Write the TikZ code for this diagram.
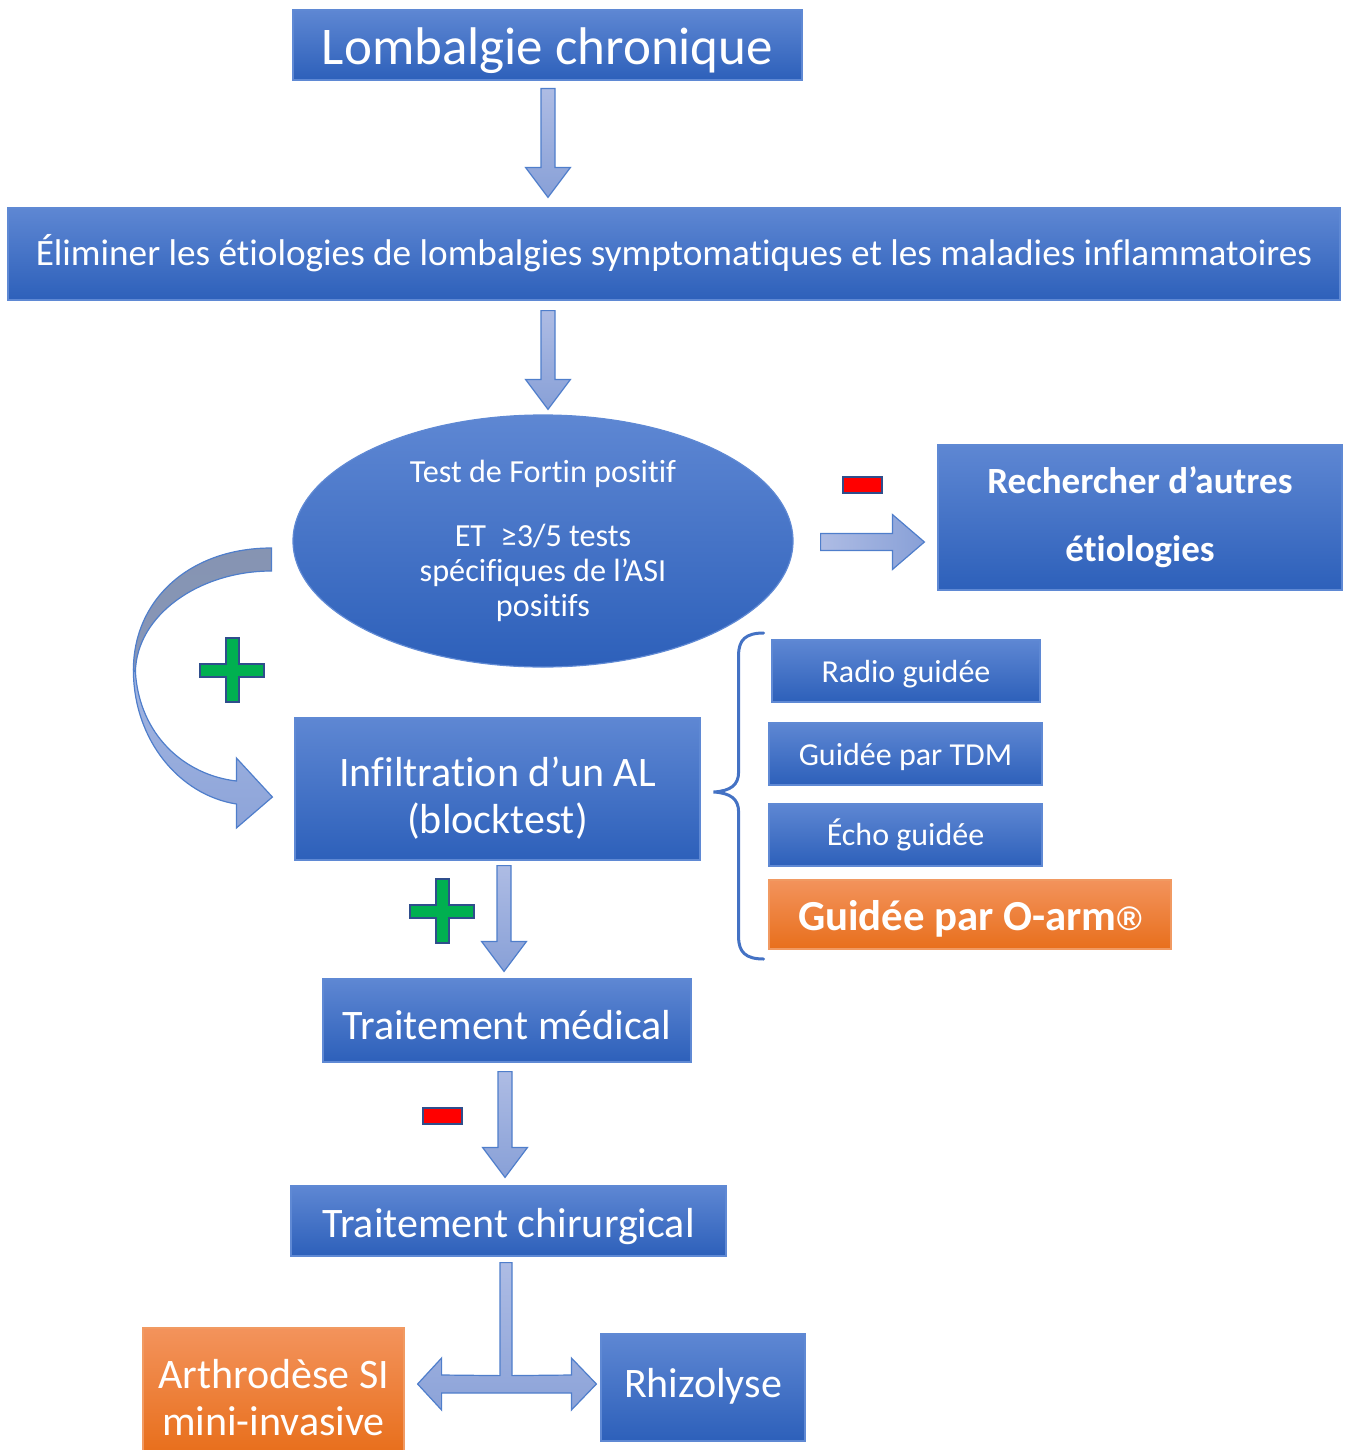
\documentclass[tikz,border=0pt]{standalone}
\usepackage{fontspec}
\setmainfont{Carlito}[Ligatures=NoCommon]
\newfontfamily\symfont{Liberation Sans}
\usetikzlibrary{calc,shapes.geometric}
\definecolor{boxtop}{HTML}{5E87D3}
\definecolor{boxbot}{HTML}{2D60BA}
\definecolor{boxline}{HTML}{5F89D4}
\definecolor{ortop}{HTML}{F3935C}
\definecolor{orbot}{HTML}{E86F1C}
\definecolor{orline}{HTML}{F19A62}
\definecolor{arrtop}{HTML}{AEBCE4}
\definecolor{arrbot}{HTML}{88A0D7}
\definecolor{arrline}{HTML}{4F7ECB}
\definecolor{curvtop}{HTML}{8694B2}
\definecolor{curvbot}{HTML}{8DA4D9}
\definecolor{plusgreen}{HTML}{00B050}
\definecolor{signline}{HTML}{2F4E8C}
\definecolor{bracecol}{HTML}{4472C4}
\tikzset{
  blbox/.style={draw=boxline,line width=0.6pt,top color=boxtop,bottom color=boxbot,text=white,align=center,inner sep=0pt},
  orbox/.style={blbox,draw=orline,top color=ortop,bottom color=orbot},
  elli/.style={ellipse,blbox},
  hugetxt/.style={font=\fontsize{26.5}{30}\selectfont},
  bigtxt/.style={font=\fontsize{21}{23.5}\selectfont},
  medtxt/.style={font=\fontsize{18.6}{21}\selectfont},
  smltxt/.style={font=\fontsize{16}{18}\selectfont},
  base/.style={text height=#1,text depth=0pt},
  blkarr/.style n args={3}{to path={let \p1=(\tikztostart),\p2=(\tikztotarget),\n1={atan2(\y2-\y1,\x2-\x1)} in
    ($(\p1)+(\n1+90:#1)$) -- ($(\p2)+(\n1+180:#3)+(\n1+90:#1)$) -- ($(\p2)+(\n1+180:#3)+(\n1+90:#2)$) -- (\p2)
    -- ($(\p2)+(\n1+180:#3)+(\n1-90:#2)$) -- ($(\p2)+(\n1+180:#3)+(\n1-90:#1)$) -- ($(\p1)+(\n1-90:#1)$) -- cycle}},
  downarr/.style={blkarr={3.5pt}{11.25pt}{15pt},draw=arrline,line width=0.6pt,top color=arrtop,bottom color=arrbot},
  rightarr/.style={blkarr={4.25pt}{13.75pt}{16pt},draw=arrline,line width=0.6pt,left color=arrtop,right color=arrbot},
  tarr/.style={draw=arrline,line width=0.6pt,top color=arrtop,bottom color=arrbot!90!arrtop},
  brace/.style={draw=bracecol,line width=1.5pt,line cap=round},
  plussign/.pic={\draw[fill=plusgreen,draw=signline,line width=1pt] (-6.5,-32) -- (6.5,-32) -- (6.5,-6.5) -- (32,-6.5) -- (32,6.5) -- (6.5,6.5) -- (6.5,32) -- (-6.5,32) -- (-6.5,6.5) -- (-32,6.5) -- (-32,-6.5) -- (-6.5,-6.5) -- cycle;},
  minussign/.pic={\draw[fill=red,draw=signline,line width=1pt] (-19.5,-8) rectangle (19.5,8);}
}

\begin{document}
\begin{tikzpicture}[x=0.5pt,y=-0.5pt]
  \useasboundingbox (0,0) rectangle (1350,1450);

  % boxes
  \node[blbox,hugetxt,base=19.2pt,minimum width=254.5pt,minimum height=35pt] (lomb) at (547.5,45) {Lombalgie chronique};
  \node[blbox,medtxt,base=11pt,minimum width=666pt,minimum height=46pt] (elim) at (674,254) {Éliminer les étiologies de lombalgies symptomatiques et les maladies inflammatoires};
  \node[elli,minimum width=250pt,minimum height=126pt,font=\fontsize{16.1}{17.5}\selectfont] (fortin) at (543,541)
    {Test de Fortin positif\\[14.5pt] ET\ \ ≥3/5 tests\\ spécifiques de l’ASI\\ positifs};
  \node[blbox,font=\bfseries\fontsize{18.5}{34}\selectfont,minimum width=202pt,minimum height=72.5pt] (rech) at (1140,517.5) {Rechercher d’autres\\ étiologies};
  \node[blbox,bigtxt,minimum width=202.5pt,minimum height=71pt] (infil) at (497.5,789) {\rule{0pt}{24pt}Infiltration d’un AL\\ (blocktest)};
  \node[blbox,smltxt,base=11.2pt,minimum width=134pt,minimum height=31pt] (radio) at (906,671) {Radio guidée};
  \node[blbox,smltxt,base=11.2pt,minimum width=136.5pt,minimum height=31pt] (tdm) at (905.5,754) {Guidée par TDM};
  \node[blbox,smltxt,base=10.2pt,minimum width=136.5pt,minimum height=31pt] (echo) at (905.5,835) {Écho guidée};
  \node[orbox,font=\bfseries\fontsize{21.4}{24}\selectfont,base=16pt,minimum width=201pt,minimum height=34.5pt] (oarm) at (970,914.5) {Guidée par O-arm{\symfont\fontsize{17}{20}\selectfont ®}};
  \node[blbox,bigtxt,base=18.5pt,minimum width=184pt,minimum height=41.5pt] (medic) at (507,1020.5) {Traitement médical};
  \node[blbox,bigtxt,base=16.5pt,minimum width=217.5pt,minimum height=35pt] (chir) at (508.5,1221) {Traitement chirurgical};
  \node[orbox,bigtxt,minimum width=130.5pt,minimum height=62pt] (arth) at (273.5,1390) {\rule{0pt}{22.5pt}Arthrodèse SI\\ mini-invasive};
  \node[blbox,bigtxt,base=9.5pt,minimum width=102pt,minimum height=53.5pt] (rhizo) at (703,1387.5) {Rhizolyse};

  % arrow ends
  \coordinate (a1s) at ($(lomb.south)+(0.5,8)$);
  \coordinate (a1e) at ($(elim.north)+(-126,-10)$);
  \coordinate (a2s) at ($(elim.south)+(-126,10)$);
  \coordinate (a2e) at ($(fortin.north)+(5,-5)$);
  \coordinate (a3s) at ($(fortin.east)+(27,1)$);
  \coordinate (a3e) at ($(rech.west)+(-13,24.5)$);
  \coordinate (a4s) at ($(infil.south)+(6.5,5)$);
  \coordinate (a4e) at ($(medic.north)+(-3,-7)$);
  \coordinate (a5s) at ($(medic.south)+(-2,9)$);
  \coordinate (a5e) at ($(chir.north)+(-3.5,-8)$);
  \coordinate (tj) at ($(chir.south)+(-2.5,128)$);
  \coordinate (tl) at ($(arth.east)+(13,-6)$);
  \coordinate (tr) at ($(rhizo.west)+(-4,-3.5)$);
  \coordinate (cs) at ($(fortin.west)+(-21,7)$);
  \coordinate (brtip) at ($(infil.east)+(13,3)$);

  % arrows
  \draw[downarr] (a1s) to (a1e);
  \draw[downarr] (a2s) to (a2e);
  \draw[rightarr] (a3s) to (a3e);
  \draw[downarr] (a4s) to (a4e);
  \draw[downarr] (a5s) to (a5e);
  \draw[tarr] ($(chir.south)+(-8.5,6)$) -- ($(tj)+(-6,-9)$) -- ($(tl)+(24,-9)$) -- ($(tl)+(24,-26)$) -- (tl)
    -- ($(tl)+(24,26)$) -- ($(tl)+(24,9)$) -- ($(tr)+(-25,9)$) -- ($(tr)+(-25,26)$) -- (tr)
    -- ($(tr)+(-25,-26)$) -- ($(tr)+(-25,-9)$) -- ($(tj)+(6,-9)$) -- ($(chir.south)+(3.5,6)$) -- cycle;

  % curved arrow
  \begin{scope}[shift={(cs)}]
    \draw[draw=arrline,line width=0.6pt,top color=curvtop,bottom color=curvtop!85!curvbot]
      (0,0) .. controls (-82,0) and (-138,52) .. (-138,122)
      -- (-136,124) .. controls (-135,67) and (-72,23) .. (0,23) -- cycle;
    \draw[draw=arrline,line width=0.6pt,top color=curvbot!80!white,bottom color=curvbot]
      (-138,122) .. controls (-138,192) and (-92,247) .. (-35,256) -- (-35,280) -- (1,249) -- (-35,210) -- (-35,233)
      .. controls (-87,227) and (-132,187) .. (-136,124) -- cycle;
  \end{scope}

  % brace
  \begin{scope}[shift={(brtip)}]
    \draw[brace] (50,-159) .. controls (32,-159) and (25,-152) .. (25,-137) -- (25,-20)
      .. controls (25,-7) and (17,-1) .. (0,0) .. controls (17,1) and (25,7) .. (25,20) -- (25,145)
      .. controls (25,160) and (32,167) .. (50,167);
  \end{scope}

  % signs
  \pic at (232,670) {plussign};
  \pic at (442,911) {plussign};
  \pic at (862,485) {minussign};
  \pic at (442,1116) {minussign};
\end{tikzpicture}
\end{document}
